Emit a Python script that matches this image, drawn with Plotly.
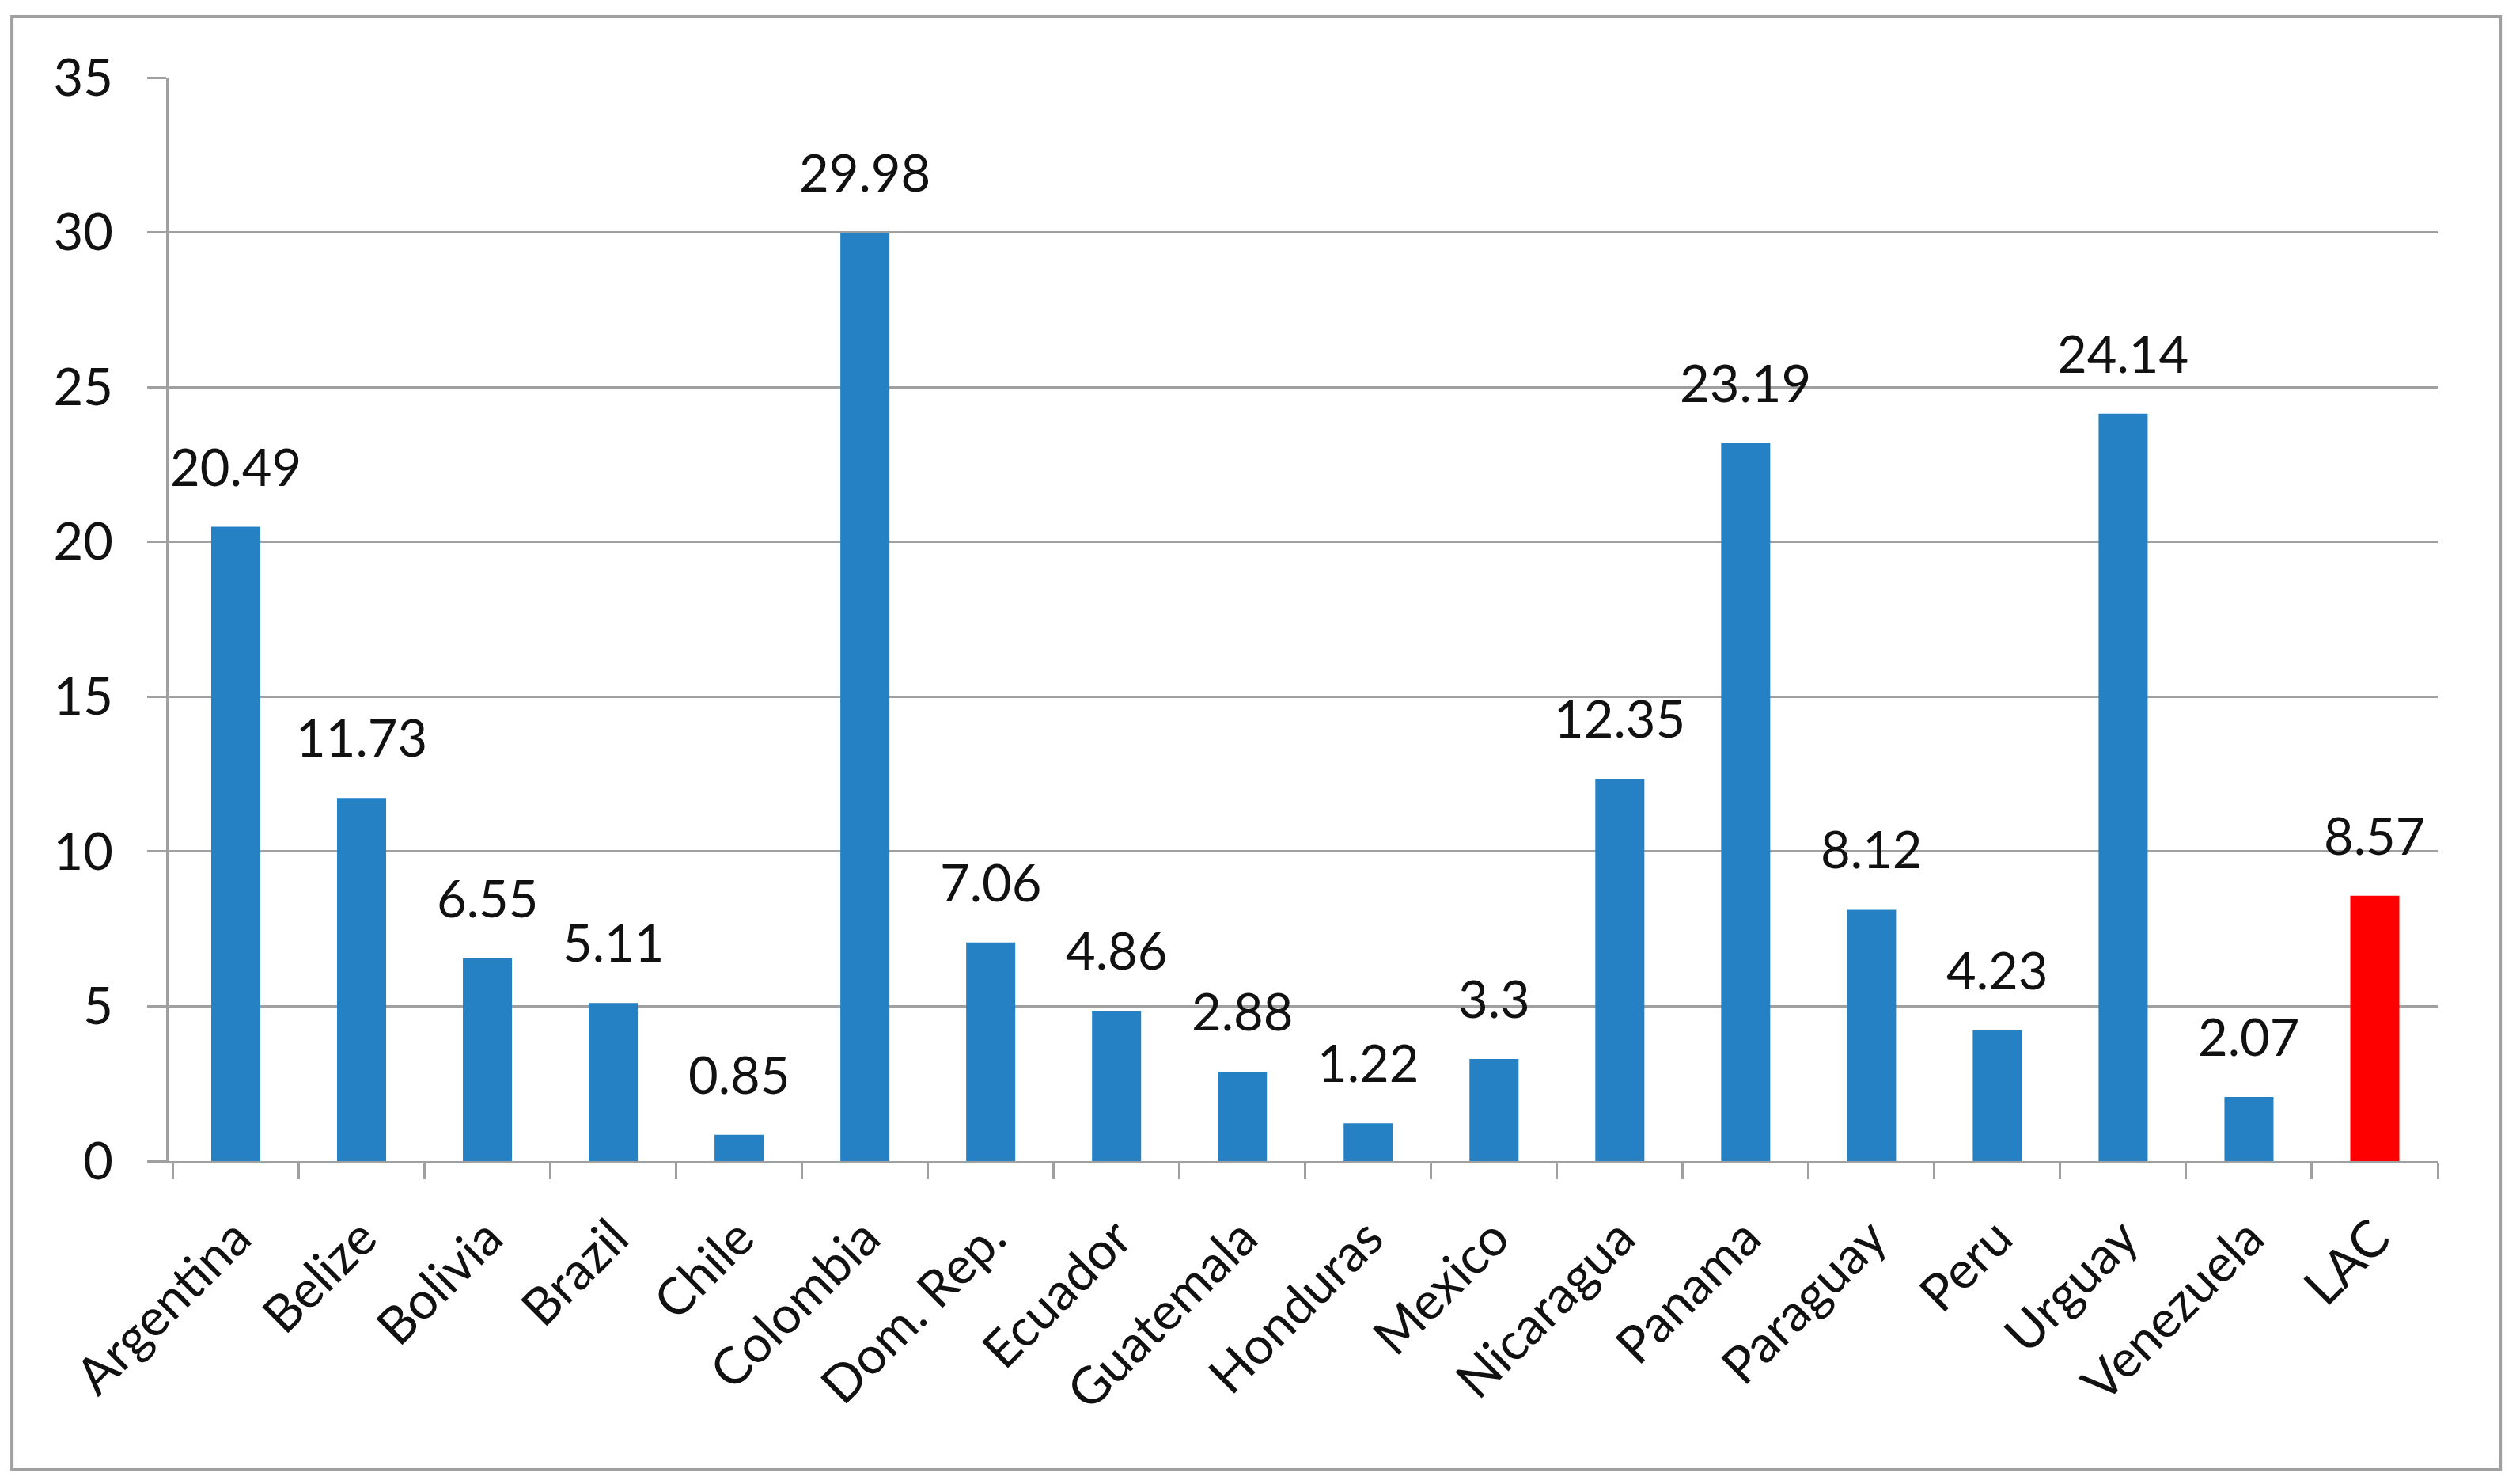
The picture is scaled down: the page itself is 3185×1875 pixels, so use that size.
import plotly.graph_objects as go

countries = ["Argentina", "Belize", "Bolivia", "Brazil", "Chile", "Colombia", "Dom. Rep.",
             "Ecuador", "Guatemala", "Honduras", "Mexico", "Nicaragua", "Panama", "Paraguay",
             "Peru", "Urguay", "Venezuela", "LAC"]
values = [20.49, 11.73, 6.55, 5.11, 0.85, 29.98, 7.06, 4.86, 2.88, 1.22, 3.3, 12.35,
          23.19, 8.12, 4.23, 24.14, 2.07, 8.57]
value_labels = ["20.49", "11.73", "6.55", "5.11", "0.85", "29.98", "7.06", "4.86", "2.88",
                "1.22", "3.3", "12.35", "23.19", "8.12", "4.23", "24.14", "2.07", "8.57"]
y_ticks = [0, 5, 10, 15, 20, 25, 30, 35]

BLUE = "#2581C3"
RED = "#FF0000"
GRID = "#A0A0A0"
FONT = "Lato"
TXT = "#111111"

colors = [RED if c == "LAC" else BLUE for c in countries]

fig = go.Figure()
fig.add_trace(go.Bar(x=countries, y=values, marker=dict(color=colors, line=dict(width=0)),
                     width=0.39, showlegend=False))

for c, v, t in zip(countries, values, value_labels):
    fig.add_annotation(x=c, y=v, text=t, showarrow=False, yanchor="bottom", yshift=36,
                       font=dict(family=FONT, size=65, color=TXT))

fig.update_layout(
    width=3177, height=1867,
    margin=dict(l=205, r=104, t=90, b=408),
    paper_bgcolor="white", plot_bgcolor="white",
    font=dict(family=FONT, size=65, color=TXT),
)
fig.update_yaxes(range=[0, 35], tickvals=y_ticks, showgrid=True, gridcolor=GRID, gridwidth=3,
                 showline=True, linecolor=GRID, linewidth=3, ticks="outside", ticklen=24,
                 tickwidth=3, tickcolor=GRID, ticklabelstandoff=30, zeroline=False,
                 tickfont=dict(family=FONT, size=65, color=TXT))
fig.update_xaxes(showline=True, linecolor=GRID, linewidth=3, ticks="outside", ticklen=20,
                 tickwidth=3, tickcolor=GRID, tickson="boundaries", tickangle=-45,
                 ticklabelstandoff=30, showgrid=False,
                 tickfont=dict(family=FONT, size=65, color=TXT))

fig.add_shape(type="rect", xref="paper", yref="paper", x0=-0.069, x1=1.0276,
              y0=-0.2849, y1=1.0563, line=dict(color=GRID, width=4), layer="below")

fig.write_html("out.html")
